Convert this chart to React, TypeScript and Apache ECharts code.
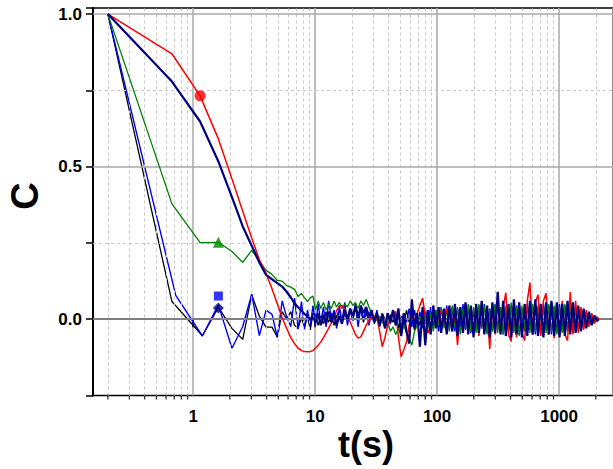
import React, { useEffect, useRef } from "react";
import * as echarts from "echarts";

// time base (s)
const T = [
  0.2, 0.67, 1.14, 1.61, 2.08, 2.55, 3.02, 3.49, 3.96, 4.43, 4.9, 5.37, 5.84, 6.31, 6.78, 7.25, 7.72, 8.19, 8.66, 9.13, 9.6,
  10.07, 10.6, 11.1, 11.7, 12.3, 12.9, 13.6, 14.3, 15, 15.8,
  16.6, 17.5, 18.4, 19.4, 20.4, 21.4, 22.5, 23.7, 24.9, 26.2,
  27.6, 29, 30.5, 32.1, 33.8, 35.5, 37.4, 39.3, 41.4, 43.5,
  45.8, 48.2, 50.7, 53.3, 56.1, 59, 62.1, 65.3, 68.7, 72.3,
  76, 80, 84.1, 88.5, 93.1, 97.9, 103, 108, 114, 120,
  126, 133, 140, 147, 155, 163, 171, 180, 189, 199,
  209, 220, 232, 244, 257, 270, 284, 299, 314, 331,
  348, 366, 385, 405, 426, 448, 471, 496, 522, 549,
  577, 607, 639, 672, 707, 744, 782, 823, 866, 911,
  958, 1008, 1060, 1115, 1173, 1234, 1298, 1366, 1437, 1511,
  1590, 1672, 1759, 1851, 1947, 2048, 2113,
];
// early sample times that differ for the black and blue runs
const T_BLACK_EARLY = [0.2, 0.67, 1.19];
const T_BLUE_EARLY = [0.2, 0.72, 1.19];

const blackC = [
  1.0, 0.058, -0.054, 0.039, -0.03, -0.066, 0.08, 0.01, -0.026, -0.026, -0.059, 0.025, 0.0, 0.025, -0.02, -0.03, 0.005, -0.025, 0.01, -0.035, 0.02,
  0.015, -0.02, 0.01, -0.015, 0.025, -0.01, 0.02, -0.02, 0.01, 0.03,
  -0.01, 0.02, 0.0, 0.035, -0.005, 0.05, 0.01, 0.03, -0.01, 0.02,
  0.0, 0.025, -0.015, 0.01, -0.02, 0.02, 0.0, -0.025, 0.015, -0.01,
  0.02, -0.03, 0.01, -0.02, 0.03, -0.01, 0.02, -0.035, 0.015, -0.02,
  0.025, -0.015, 0.03, -0.03, 0.01, -0.025, 0.035, -0.02, 0.02, -0.04,
  0.03, -0.03, 0.04, -0.02, 0.025, -0.045, 0.035, -0.025, 0.04, -0.035,
  0.03, -0.04, 0.045, -0.03, 0.02, -0.05, 0.04, -0.02, 0.05, -0.035,
  0.03, -0.045, 0.04, -0.03, 0.05, -0.04, 0.025, -0.05, 0.045, -0.03,
  0.04, -0.045, 0.05, -0.035, 0.03, -0.05, 0.045, -0.04, 0.035, -0.045,
  0.05, -0.04, 0.04, -0.05, 0.035, -0.045, 0.04, -0.035, 0.03, -0.03,
  0.025, -0.025, 0.02, -0.015, 0.01, -0.005, 0.0,
];

const blueC = [
  1.0, 0.078, -0.055, 0.047, -0.095, -0.024, 0.082, -0.054, 0.03, 0.016, -0.059, 0.06, 0.007, -0.024, 0.069, -0.033, 0.058, -0.033, 0.03, -0.02, 0.045,
  -0.02, 0.05, -0.01, 0.04, -0.025, 0.06, 0.0, 0.03, -0.03, 0.045,
  -0.01, 0.055, -0.02, 0.03, -0.005, 0.05, -0.025, 0.04, 0.0, 0.035,
  -0.02, 0.02, -0.01, 0.03, -0.025, 0.015, -0.03, 0.02, -0.015, 0.03,
  -0.02, 0.025, -0.03, 0.02, -0.01, 0.035, -0.025, 0.03, -0.02, 0.025,
  -0.03, 0.035, -0.015, 0.04, -0.025, 0.03, -0.04, 0.04, -0.02, 0.045,
  -0.03, 0.04, -0.04, 0.035, -0.025, 0.05, -0.035, 0.04, -0.045, 0.03,
  -0.04, 0.045, -0.03, 0.05, -0.045, 0.035, -0.04, 0.05, -0.03, 0.04,
  -0.05, 0.04, -0.035, 0.05, -0.04, 0.045, -0.05, 0.035, -0.04, 0.05,
  -0.035, 0.045, -0.05, 0.04, -0.045, 0.05, -0.03, 0.045, -0.05, 0.04,
  -0.045, 0.05, -0.04, 0.045, -0.035, 0.04, -0.045, 0.035, -0.03, 0.03,
  -0.025, 0.02, -0.02, 0.015, -0.01, 0.005, 0.0,
];

const greenC = [
  1.0, 0.378, 0.251, 0.252, 0.222, 0.186, 0.226, 0.19, 0.16, 0.147, 0.127, 0.125, 0.11, 0.105, 0.098, 0.074, 0.085, 0.07, 0.058, 0.07, 0.076,
  0.03, 0.06, 0.035, 0.055, 0.03, 0.05, 0.035, 0.06, 0.04, 0.055,
  0.035, 0.05, 0.04, 0.06, 0.045, 0.055, 0.035, 0.06, 0.045, 0.065,
  0.04, 0.02, 0.01, -0.005, 0.01, -0.01, -0.02, -0.005, -0.04, -0.025,
  -0.05, -0.03, -0.055, -0.02, -0.045, -0.06, -0.085, -0.04, -0.02, 0.01,
  -0.02, 0.015, -0.03, 0.02, -0.04, 0.03, -0.02, 0.04, -0.03, 0.035,
  -0.04, 0.045, -0.025, 0.04, -0.05, 0.035, -0.03, 0.05, -0.04, 0.04,
  -0.045, 0.05, -0.03, 0.045, -0.05, 0.03, -0.04, 0.05, -0.045, 0.04,
  -0.05, 0.045, -0.04, 0.055, -0.045, 0.04, -0.055, 0.045, -0.035, 0.05,
  -0.045, 0.05, -0.04, 0.045, -0.05, 0.04, -0.045, 0.05, -0.04, 0.045,
  -0.05, 0.04, -0.045, 0.05, -0.04, 0.045, -0.035, 0.04, -0.04, 0.035,
  -0.03, 0.025, -0.02, 0.015, -0.01, 0.005, 0.0,
];

const redC = [
  1.0, 0.87, 0.732, 0.591, 0.46, 0.354, 0.266, 0.195, 0.15, 0.1, 0.05, 0.005, -0.03, -0.06, -0.08, -0.095, -0.103, -0.106, -0.107, -0.106, -0.103,
  -0.095, -0.085, -0.075, -0.06, -0.045, -0.03, -0.012, 0.008, 0.028, 0.043,
  0.045, 0.03, 0.01, -0.01, -0.03, -0.05, -0.062, -0.058, -0.04, -0.02,
  -0.005, 0.005, 0.01, 0.005, -0.04, -0.09, -0.06, -0.02, 0.0, 0.02,
  0.025, -0.06, -0.123, -0.1, -0.075, -0.02, 0.01, -0.01, 0.02, 0.045,
  0.069, 0.01, -0.046, -0.02, 0.01, -0.015, 0.0, 0.03, -0.01, 0.035,
  0.025, -0.04, 0.02, -0.084, 0.03, -0.03, 0.05, -0.04, 0.04, -0.05,
  0.045, -0.055, 0.05, -0.045, 0.04, -0.098, 0.035, -0.05, 0.06, -0.04,
  0.04, 0.087, -0.05, -0.073, 0.045, -0.06, 0.05, -0.045, -0.07, 0.06,
  0.12, -0.05, 0.055, 0.08, -0.055, 0.06, 0.085, -0.05, 0.055, -0.062,
  0.05, -0.055, 0.06, -0.05, -0.07, 0.089, -0.05, 0.06, -0.045, 0.04,
  -0.035, 0.03, -0.025, 0.02, -0.015, 0.008, 0.0,
];

const navyC = [
  1.0, 0.779, 0.648, 0.517, 0.4, 0.304, 0.241, 0.186, 0.145, 0.131, 0.118, 0.107, 0.09, 0.072, 0.052, 0.039, 0.028, 0.017, 0.01, 0.0, 0.005,
  -0.01, 0.02, -0.02, 0.015, -0.015, 0.025, -0.01, 0.02, -0.02, 0.01,
  -0.015, 0.03, 0.0, 0.035, 0.01, 0.04, 0.005, 0.045, 0.02, 0.04,
  0.01, 0.03, -0.01, 0.02, -0.02, 0.015, -0.03, 0.02, -0.01, 0.03,
  -0.02, 0.035, -0.055, 0.02, -0.04, -0.08, 0.065, -0.03, 0.02, -0.09,
  0.04, -0.085, 0.03, -0.05, 0.045, -0.03, 0.04, -0.045, 0.035, -0.05,
  0.045, -0.04, 0.05, -0.055, 0.04, -0.045, 0.055, -0.05, 0.045, -0.06,
  0.05, -0.045, 0.06, -0.05, 0.045, -0.06, 0.055, -0.045, 0.09, -0.05,
  0.06, -0.055, 0.05, -0.06, 0.065, -0.05, 0.055, -0.06, 0.05, -0.055,
  0.06, -0.05, 0.065, -0.055, 0.05, -0.06, 0.055, -0.05, 0.06, -0.055,
  0.055, -0.06, 0.05, -0.055, 0.06, -0.05, 0.055, -0.045, 0.045, -0.04,
  0.035, -0.03, 0.025, -0.02, 0.012, -0.006, 0.0,
];

// markers
const redMarker = [[1.14, 0.732]];
const greenMarker = [[1.61, 0.252]];
const blueMarker = [[1.61, 0.076]];
const navyMarker = [[1.61, 0.037]];

// axis decoration
const xMinorTicks = [
  0.2, 0.3, 0.4, 0.5, 0.6, 0.7, 0.8, 0.9,
  2, 3, 4, 5, 6, 7, 8, 9,
  20, 30, 40, 50, 60, 70, 80, 90,
  200, 300, 400, 500, 600, 700, 800, 900,
  2000,
];
const yMajorLines = [0, 0.5, 1.0];
const yMinorLines = [0.25, 0.75];

const FONT = '"Liberation Sans", Arial, sans-serif';

function pairs(vals: number[], early: number[] = []) {
  return vals.map((v, i) => [i < early.length ? early[i] : T[i], v]);
}

export default function App() {
  const ref = useRef<HTMLDivElement>(null);
  useEffect(() => {
    if (!ref.current) return;
    const chart = echarts.init(ref.current, null, { renderer: "svg" });
    const lineSeries = (name: string, data: number[][], color: string, width: number, z: number) => ({
      name,
      type: "line",
      data,
      symbol: "none",
      showSymbol: false,
      lineStyle: { color, width },
      z,
      silent: true,
    });
    const markerSeries = (data: number[][], color: string, symbol: string, size: number) => ({
      type: "scatter",
      data,
      symbol,
      symbolSize: size,
      itemStyle: { color },
      z: 10,
      silent: true,
    });
    chart.setOption({
      animation: false,
      backgroundColor: "#ffffff",
      grid: {
        left: 93,
        right: -3,
        top: 8,
        bottom: 73.5,
        show: true,
        borderColor: "#000",
        borderWidth: 1.5,
        backgroundColor: "transparent",
      },
      xAxis: {
        type: "log",
        logBase: 10,
        min: 0.151,
        max: 2767,
        axisLine: { show: true, lineStyle: { color: "#000", width: 2 } },
        axisTick: { show: true, length: 8, lineStyle: { color: "#000", width: 1.5 } },
        axisLabel: {
          show: true,
          showMinLabel: false,
          showMaxLabel: false,
          margin: 12,
          color: "#000",
          fontSize: 17,
          fontWeight: "bold",
          fontFamily: FONT,
          formatter: (v: number) => {
            const l = Math.log10(v);
            return Math.abs(l - Math.round(l)) < 1e-6 && v >= 1 ? String(Math.round(v)) : "";
          },
        },
        splitLine: { show: true, lineStyle: { color: "#a8a8a8", width: 1.5 } },
      },
      yAxis: {
        type: "value",
        min: -0.25,
        max: 1.02,
        interval: 0.25,
        axisLine: { show: true, lineStyle: { color: "#000", width: 2 } },
        axisTick: { show: true, length: 7, lineStyle: { color: "#000", width: 1.5 } },
        axisLabel: {
          margin: 11,
          color: "#000",
          fontSize: 17,
          fontWeight: "bold",
          fontFamily: FONT,
          formatter: (v: number) =>
            Math.abs(v * 2 - Math.round(v * 2)) < 1e-6 ? v.toFixed(1) : "",
        },
        splitLine: { show: false },
      },
      graphic: [
        {
          type: "text",
          x: 25,
          y: 196,
          rotation: Math.PI / 2,
          style: {
            text: "C",
            font: 'bold 38px "Liberation Sans", Arial, sans-serif',
            fill: "#000",
            textAlign: "center",
            textVerticalAlign: "middle",
            align: "center",
            verticalAlign: "middle",
          },
        },
        {
          type: "text",
          x: 366,
          y: 444,
          style: {
            text: "t(s)",
            font: 'bold 36px "Liberation Sans", Arial, sans-serif',
            fill: "#000",
            textAlign: "center",
            textVerticalAlign: "middle",
            align: "center",
            verticalAlign: "middle",
          },
        },
      ],
      series: [
        {
          type: "line",
          data: [],
          z: 1,
          silent: true,
          markLine: {
            silent: true,
            symbol: "none",
            label: { show: false },
            animation: false,
            data: [
              ...xMinorTicks.map((v) => ({
                xAxis: v,
                lineStyle: { type: [3, 3], color: "#c8c8c8", width: 1 },
              })),
              ...yMinorLines.map((v) => ({
                yAxis: v,
                lineStyle: { type: [3, 3], color: "#c8c8c8", width: 1 },
              })),
              ...yMajorLines.map((v) => ({
                yAxis: v,
                lineStyle: { type: "solid", color: "#a8a8a8", width: 1.5 },
              })),
            ],
          },
        },
        {
          type: "scatter",
          data: xMinorTicks.map((v) => [v, -0.25]),
          symbol: "rect",
          symbolSize: [1.3, 4],
          symbolOffset: [0, 2],
          itemStyle: { color: "#000" },
          clip: false,
          silent: true,
          z: 4,
        },
        lineSeries("black", pairs(blackC, T_BLACK_EARLY), "#000000", 1.3, 3),
        lineSeries("blue", pairs(blueC, T_BLUE_EARLY), "#0000ff", 1.4, 4),
        lineSeries("green", pairs(greenC), "#008000", 1.3, 5),
        lineSeries("red", pairs(redC), "#ff0000", 1.5, 6),
        lineSeries("navy", pairs(navyC), "#000080", 2.2, 7),
        markerSeries(redMarker, "#ff0000", "circle", 11),
        markerSeries(greenMarker, "#008000", "triangle", 11),
        markerSeries(blueMarker, "#0000ff", "rect", 9),
        markerSeries(navyMarker, "#000080", "diamond", 11),
      ],
    });
    return () => chart.dispose();
  }, []);
  return <div ref={ref} style={{ width: 613, height: 469, position: "absolute", left: 0, top: 0 }} />;
}
